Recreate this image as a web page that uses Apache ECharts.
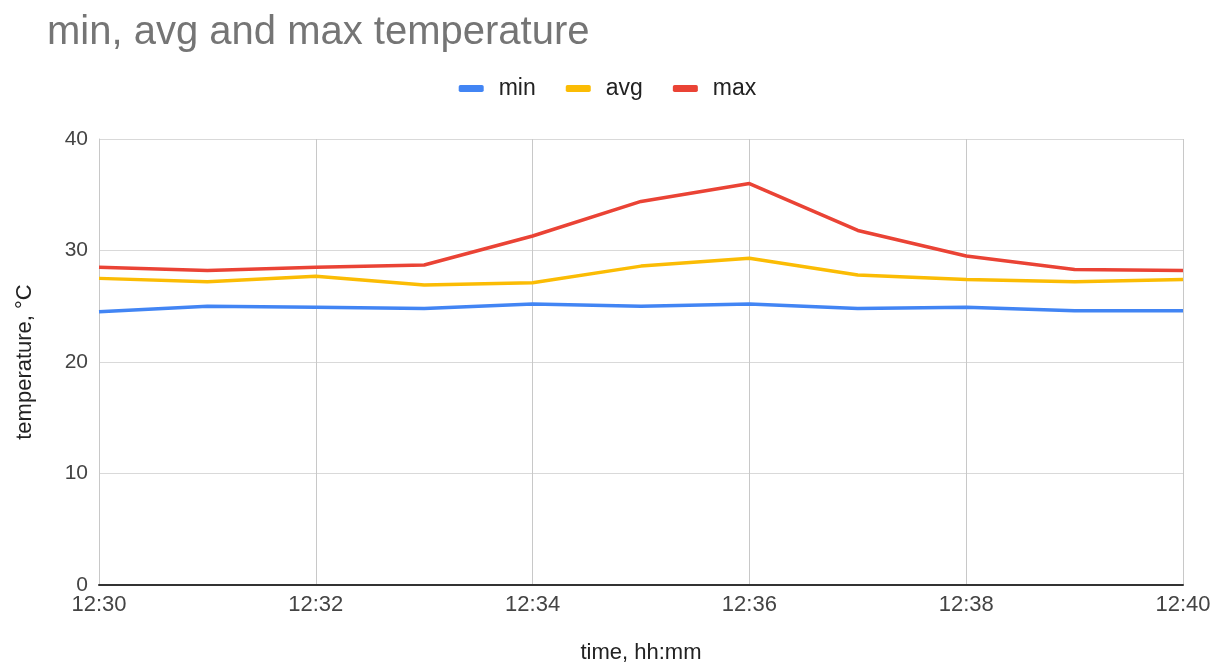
<!DOCTYPE html>
<html>
<head>
<meta charset="utf-8">
<script src="https://cdn.jsdelivr.net/npm/echarts@6/dist/echarts.min.js"></script>
<style>
  html, body { margin: 0; padding: 0; background: #fff; overflow: hidden; }
  #chart { width: 1215px; height: 669px; }
</style>
</head>
<body>
<div id="chart"></div>
<script>
// Time stamps (one per minute)
const times = ['12:30','12:31','12:32','12:33','12:34','12:35','12:36','12:37','12:38','12:39','12:40'];
// Temperatures, °C
const minTemp = [24.5, 25.0, 24.9, 24.8, 25.2, 25.0, 25.2, 24.8, 24.9, 24.6, 24.6];
const avgTemp = [27.5, 27.2, 27.7, 26.9, 27.1, 28.6, 29.3, 27.8, 27.4, 27.2, 27.4];
const maxTemp = [28.5, 28.2, 28.5, 28.7, 31.3, 34.4, 36.0, 31.8, 29.5, 28.3, 28.2];

const FONT = '"Liberation Sans", Arial, sans-serif';

const chart = echarts.init(document.getElementById('chart'), null, { renderer: 'canvas' });

function lineSeries(name, data, color) {
  return {
    name: name,
    type: 'line',
    data: data,
    symbol: 'none',
    lineStyle: { width: 3.5, color: color },
    itemStyle: { color: color },
    emphasis: { disabled: true }
  };
}

chart.setOption({
  animation: false,
  textStyle: { fontFamily: FONT },
  title: {
    text: 'min, avg and max temperature',
    left: 42,
    top: 8,
    textStyle: { fontFamily: FONT, fontSize: 40, fontWeight: 'normal', color: '#757575' }
  },
  legend: {
    top: 72,
    left: 'center',
    itemWidth: 25,
    itemHeight: 7,
    itemGap: 30,
    icon: 'roundRect',
    textStyle: { fontFamily: FONT, fontSize: 23, color: '#222', padding: [0, 0, 0, 10] },
    data: ['min', 'avg', 'max']
  },
  grid: { left: 99, right: 32, top: 139, bottom: 80, containLabel: false },
  xAxis: {
    type: 'category',
    data: times,
    boundaryGap: false,
    name: 'time, hh:mm',
    nameLocation: 'middle',
    nameGap: 57,
    nameTextStyle: { fontFamily: FONT, fontSize: 22, color: '#222' },
    axisLine: { show: true, lineStyle: { color: '#333', width: 2 } },
    axisTick: { show: false },
    axisLabel: { interval: 1, fontFamily: FONT, fontSize: 22, color: '#444', margin: 9 },
    splitLine: { show: true, interval: 1, lineStyle: { color: '#c8c8c8', width: 1 } }
  },
  yAxis: {
    type: 'value',
    min: 0,
    max: 40,
    interval: 10,
    name: 'temperature, °C',
    nameLocation: 'middle',
    nameGap: 63,
    nameTextStyle: { fontFamily: FONT, fontSize: 22, color: '#222' },
    axisLine: { show: true, lineStyle: { color: '#c8c8c8', width: 1 } },
    axisTick: { show: false },
    axisLabel: { fontFamily: FONT, fontSize: 21, color: '#444', margin: 11 },
    splitLine: { show: true, lineStyle: { color: '#d9d9d9', width: 1 } }
  },
  series: [
    lineSeries('min', minTemp, '#4285F4'),
    lineSeries('avg', avgTemp, '#FBBC04'),
    lineSeries('max', maxTemp, '#EA4335')
  ]
});
</script>
</body>
</html>
